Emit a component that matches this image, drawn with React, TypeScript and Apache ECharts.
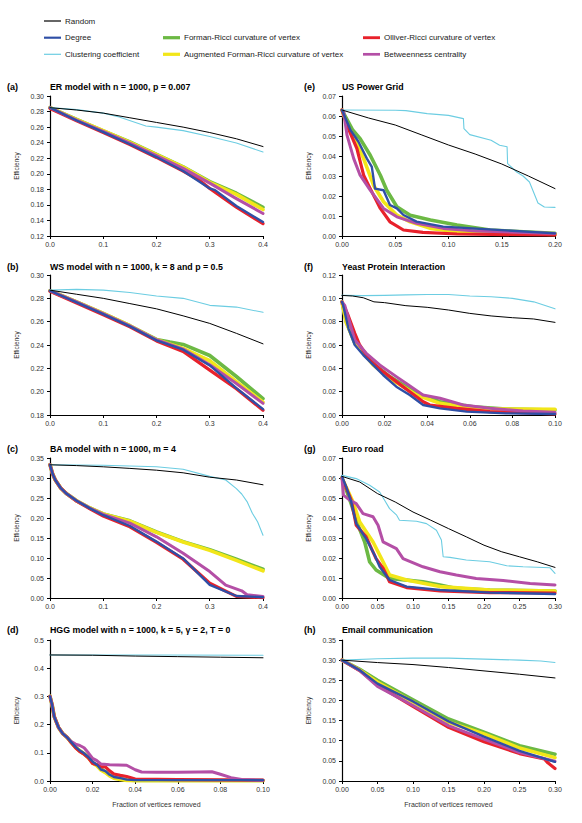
import React, { useEffect, useRef } from "react";
import * as echarts from "echarts";

// ---------- names ----------
const N_RANDOM = "Random";
const N_DEGREE = "Degree";
const N_CLUST = "Clustering coefficient";
const N_FORMAN = "Forman-Ricci curvature of vertex";
const N_AUG = "Augmented Forman-Ricci curvature of vertex";
const N_OLLIVER = "Olliver-Ricci curvature of vertex";
const N_BETW = "Betweenness centrality";

// ---------- (a) ER model ----------
const A_random = [[0,0.285],[0.05,0.282],[0.1,0.278],[0.15,0.272],[0.2,0.266],[0.25,0.26],[0.3,0.253],[0.35,0.245],[0.4,0.235]];
const A_clust = [[0,0.285],[0.05,0.2825],[0.1,0.278],[0.13,0.273],[0.18,0.2615],[0.2,0.26],[0.25,0.2555],[0.3,0.248],[0.35,0.2395],[0.4,0.228]];
const A_green = [[0,0.285],[0.05,0.27],[0.1,0.255],[0.15,0.241],[0.2,0.225],[0.25,0.209],[0.3,0.19],[0.35,0.175],[0.4,0.157]];
const A_yellow = [[0,0.285],[0.05,0.2695],[0.1,0.2555],[0.15,0.2405],[0.2,0.2245],[0.25,0.2085],[0.3,0.189],[0.35,0.1735],[0.4,0.154]];
const A_red = [[0,0.284],[0.05,0.268],[0.1,0.253],[0.15,0.2375],[0.2,0.221],[0.25,0.2035],[0.28,0.192],[0.3,0.181],[0.35,0.157],[0.4,0.136]];
const A_magenta = [[0,0.285],[0.05,0.269],[0.1,0.2545],[0.15,0.2395],[0.2,0.2235],[0.25,0.207],[0.3,0.188],[0.35,0.168],[0.4,0.149]];
const A_blue = [[0,0.285],[0.05,0.2685],[0.1,0.2535],[0.15,0.238],[0.2,0.2215],[0.25,0.2035],[0.3,0.1812],[0.31,0.179],[0.35,0.1585],[0.4,0.138]];

// ---------- (b) WS model ----------
const B_random = [[0,0.287],[0.05,0.2835],[0.1,0.28],[0.15,0.2755],[0.2,0.271],[0.25,0.265],[0.3,0.2585],[0.35,0.25],[0.4,0.241]];
const B_clust = [[0,0.287],[0.05,0.2877],[0.1,0.287],[0.15,0.285],[0.2,0.282],[0.25,0.28],[0.3,0.274],[0.35,0.2725],[0.4,0.268]];
const B_green = [[0,0.2865],[0.05,0.277],[0.1,0.267],[0.15,0.2565],[0.2,0.2448],[0.225,0.2425],[0.25,0.2405],[0.3,0.231],[0.35,0.213],[0.4,0.194]];
const B_yellow = [[0,0.2865],[0.05,0.277],[0.1,0.267],[0.15,0.2565],[0.2,0.2445],[0.25,0.237],[0.3,0.2265],[0.35,0.2085],[0.4,0.191]];
const B_red = [[0,0.286],[0.05,0.276],[0.1,0.266],[0.15,0.2555],[0.2,0.2435],[0.25,0.2345],[0.3,0.2185],[0.35,0.2025],[0.4,0.184]];
const B_magenta = [[0,0.2865],[0.05,0.277],[0.1,0.267],[0.15,0.2565],[0.2,0.2445],[0.25,0.2365],[0.3,0.223],[0.35,0.207],[0.4,0.19]];
const B_blue = [[0,0.2865],[0.05,0.2765],[0.1,0.2665],[0.15,0.256],[0.2,0.244],[0.25,0.236],[0.3,0.2225],[0.35,0.203],[0.4,0.185]];

// ---------- (c) BA model ----------
const C_random = [[0,0.333],[0.05,0.331],[0.1,0.328],[0.15,0.324],[0.2,0.3195],[0.25,0.313],[0.3,0.302],[0.35,0.295],[0.4,0.283]];
const C_clust = [[0,0.333],[0.1,0.332],[0.2,0.328],[0.25,0.322],[0.3,0.304],[0.33,0.295],[0.35,0.2735],[0.36,0.26],[0.37,0.241],[0.38,0.212],[0.39,0.19],[0.4,0.157]];
const C_green = [[0,0.333],[0.005,0.31],[0.01,0.295],[0.02,0.275],[0.03,0.262],[0.05,0.243],[0.075,0.225],[0.1,0.21],[0.15,0.193],[0.2,0.165],[0.25,0.141],[0.3,0.121],[0.35,0.097],[0.4,0.072]];
const C_yellow = [[0,0.333],[0.005,0.31],[0.01,0.295],[0.02,0.275],[0.03,0.262],[0.05,0.243],[0.075,0.225],[0.1,0.21],[0.15,0.192],[0.2,0.164],[0.25,0.14],[0.3,0.119],[0.35,0.094],[0.4,0.068]];
const C_red = [[0,0.333],[0.005,0.31],[0.01,0.295],[0.02,0.275],[0.03,0.262],[0.05,0.242],[0.075,0.223],[0.1,0.205],[0.15,0.178],[0.2,0.139],[0.25,0.097],[0.3,0.037],[0.35,0.004],[0.4,0.001]];
const C_magenta = [[0,0.333],[0.005,0.31],[0.01,0.295],[0.02,0.275],[0.03,0.262],[0.05,0.243],[0.075,0.225],[0.1,0.209],[0.15,0.187],[0.2,0.153],[0.25,0.112],[0.3,0.066],[0.33,0.032],[0.36,0.018],[0.37,0.008],[0.4,0.004]];
const C_blue = [[0,0.333],[0.005,0.31],[0.01,0.295],[0.02,0.275],[0.03,0.262],[0.05,0.243],[0.075,0.224],[0.1,0.207],[0.15,0.18],[0.2,0.141],[0.25,0.099],[0.3,0.033],[0.35,0.005],[0.4,0.002]];

// ---------- (d) HGG model ----------
const D_random = [[0,0.447],[0.02,0.446],[0.04,0.443],[0.06,0.441],[0.08,0.439],[0.1,0.437]];
const D_clust = [[0,0.447],[0.05,0.447],[0.1,0.446]];
const D_green = [[0,0.3],[0.001,0.27],[0.002,0.228],[0.004,0.19],[0.006,0.168],[0.008,0.155],[0.01,0.137],[0.012,0.12],[0.014,0.107],[0.016,0.097],[0.018,0.084],[0.02,0.066],[0.022,0.056],[0.024,0.042],[0.026,0.033],[0.028,0.021],[0.03,0.013],[0.033,0.008],[0.036,0.004],[0.04,0.002],[0.1,0.002]];
const D_yellow = [[0,0.3],[0.001,0.27],[0.002,0.228],[0.004,0.19],[0.006,0.168],[0.008,0.155],[0.01,0.137],[0.012,0.119],[0.014,0.106],[0.016,0.096],[0.018,0.083],[0.02,0.064],[0.022,0.054],[0.024,0.038],[0.026,0.03],[0.028,0.018],[0.03,0.01],[0.033,0.005],[0.036,0.002],[0.04,0.001],[0.1,0.001]];
const D_red = [[0,0.3],[0.001,0.27],[0.002,0.228],[0.004,0.19],[0.006,0.168],[0.008,0.155],[0.01,0.136],[0.012,0.118],[0.014,0.104],[0.016,0.095],[0.018,0.082],[0.02,0.062],[0.022,0.058],[0.024,0.05],[0.026,0.05],[0.028,0.036],[0.03,0.025],[0.033,0.02],[0.036,0.016],[0.04,0.007],[0.06,0.005],[0.08,0.004],[0.1,0.003]];
const D_magenta = [[0,0.3],[0.001,0.27],[0.002,0.228],[0.004,0.19],[0.006,0.168],[0.008,0.155],[0.01,0.14],[0.012,0.131],[0.014,0.126],[0.016,0.118],[0.018,0.1],[0.02,0.08],[0.022,0.072],[0.024,0.06],[0.028,0.058],[0.032,0.057],[0.036,0.056],[0.038,0.048],[0.04,0.04],[0.043,0.032],[0.05,0.031],[0.06,0.031],[0.07,0.032],[0.076,0.033],[0.08,0.024],[0.085,0.012],[0.09,0.005],[0.1,0.003]];
const D_blue = [[0,0.3],[0.001,0.27],[0.002,0.228],[0.004,0.19],[0.006,0.168],[0.008,0.155],[0.01,0.138],[0.012,0.121],[0.014,0.108],[0.016,0.098],[0.018,0.085],[0.02,0.068],[0.022,0.058],[0.024,0.04],[0.026,0.035],[0.028,0.022],[0.03,0.014],[0.033,0.01],[0.036,0.005],[0.04,0.003],[0.06,0.003],[0.08,0.003],[0.1,0.003]];

// ---------- (e) US Power Grid ----------
const E_random = [[0,0.063],[0.025,0.059],[0.05,0.0555],[0.075,0.0505],[0.1,0.0455],[0.125,0.041],[0.15,0.036],[0.175,0.03],[0.2,0.0237]];
const E_clust = [[0,0.063],[0.05,0.0629],[0.06,0.0627],[0.08,0.0612],[0.1,0.0603],[0.114,0.0587],[0.1145,0.0537],[0.12,0.0507],[0.14,0.0479],[0.148,0.0454],[0.155,0.0446],[0.1555,0.0362],[0.164,0.032],[0.17,0.03],[0.176,0.027],[0.184,0.0165],[0.19,0.0145],[0.2,0.0143]];
const E_green = [[0,0.063],[0.005,0.058],[0.01,0.053],[0.017,0.0487],[0.0265,0.0404],[0.036,0.0304],[0.042,0.0229],[0.0515,0.0146],[0.064,0.0104],[0.083,0.008],[0.108,0.0055],[0.139,0.003],[0.2,0.0013]];
const E_yellow = [[0,0.063],[0.005,0.055],[0.011,0.05],[0.0203,0.0387],[0.0296,0.0254],[0.039,0.0171],[0.0515,0.0104],[0.064,0.0071],[0.083,0.0038],[0.108,0.0021],[0.2,0.0008]];
const E_red = [[0,0.063],[0.006,0.0537],[0.014,0.0437],[0.0203,0.0304],[0.0265,0.0237],[0.036,0.0138],[0.045,0.0071],[0.0577,0.003],[0.076,0.0018],[0.108,0.001],[0.2,0.0005]];
const E_magenta = [[0,0.063],[0.0016,0.062],[0.0047,0.0504],[0.011,0.0387],[0.017,0.0304],[0.0265,0.0229],[0.039,0.0138],[0.0515,0.0096],[0.07,0.0063],[0.095,0.0038],[0.126,0.0025],[0.2,0.0013]];
const E_blue = [[0,0.063],[0.008,0.053],[0.0156,0.047],[0.0234,0.0387],[0.028,0.0346],[0.031,0.0237],[0.039,0.0229],[0.045,0.0155],[0.0515,0.0138],[0.0577,0.0105],[0.07,0.0072],[0.095,0.0047],[0.2,0.0013]];

// ---------- (f) Yeast Protein Interaction ----------
const F_random = [[0,0.1025],[0.005,0.102],[0.01,0.1005],[0.015,0.097],[0.02,0.0963],[0.03,0.0937],[0.04,0.0923],[0.05,0.09],[0.06,0.0871],[0.07,0.0849],[0.08,0.0834],[0.09,0.0823],[0.1,0.0794]];
const F_clust = [[0,0.1025],[0.01,0.1023],[0.02,0.1025],[0.03,0.103],[0.04,0.1033],[0.05,0.1033],[0.06,0.102],[0.07,0.1013],[0.08,0.1],[0.09,0.097],[0.1,0.091]];
const F_green = [[0,0.097],[0.002,0.08],[0.006,0.0614],[0.0146,0.0443],[0.0224,0.0329],[0.035,0.0186],[0.046,0.0114],[0.0616,0.0071],[0.077,0.0051],[0.1,0.0043]];
const F_yellow = [[0,0.097],[0.002,0.079],[0.006,0.0623],[0.0146,0.0429],[0.0224,0.0314],[0.035,0.0171],[0.046,0.01],[0.0616,0.0057],[0.077,0.0051],[0.1,0.0049]];
const F_red = [[0,0.097],[0.0028,0.0857],[0.006,0.07],[0.0083,0.06],[0.013,0.047],[0.0193,0.037],[0.0255,0.0286],[0.0318,0.02],[0.0381,0.0114],[0.0412,0.0086],[0.0538,0.0057],[0.0694,0.0029],[0.1,0.0009]];
const F_magenta = [[0,0.097],[0.0013,0.094],[0.006,0.0643],[0.0114,0.0529],[0.0177,0.0429],[0.0255,0.0329],[0.0302,0.0271],[0.038,0.0171],[0.046,0.0143],[0.0569,0.0086],[0.0694,0.0057],[0.085,0.0034],[0.1,0.0023]];
const F_blue = [[0,0.097],[0.0005,0.0943],[0.003,0.0743],[0.006,0.06],[0.01,0.0514],[0.0146,0.0429],[0.0193,0.0343],[0.0255,0.0243],[0.0318,0.0171],[0.0381,0.0086],[0.046,0.0057],[0.0585,0.0029],[0.077,0.0014],[0.1,0.0009]];

// ---------- (g) Euro road ----------
const G_random = [[0,0.0608],[0.025,0.058],[0.05,0.0522],[0.075,0.048],[0.1,0.043],[0.125,0.0389],[0.15,0.0347],[0.175,0.0306],[0.2,0.0264],[0.225,0.0231],[0.25,0.0206],[0.275,0.0181],[0.3,0.0153]];
const G_clust = [[0,0.0613],[0.02,0.0597],[0.039,0.0564],[0.053,0.053],[0.06,0.0489],[0.067,0.0447],[0.077,0.0414],[0.081,0.0389],[0.105,0.0384],[0.119,0.0372],[0.133,0.0339],[0.14,0.029],[0.1425,0.0206],[0.152,0.0203],[0.175,0.019],[0.208,0.0181],[0.232,0.0161],[0.255,0.0156],[0.293,0.0151],[0.3,0.0123]];
const G_green = [[0,0.06],[0.013,0.047],[0.0226,0.0364],[0.032,0.028],[0.039,0.018],[0.048,0.014],[0.067,0.0098],[0.114,0.0081],[0.138,0.0065],[0.161,0.0048],[0.208,0.004],[0.3,0.0035]];
const G_yellow = [[0,0.06],[0.0155,0.048],[0.025,0.038],[0.0437,0.028],[0.058,0.018],[0.067,0.0115],[0.091,0.009],[0.138,0.0057],[0.208,0.004],[0.3,0.0035]];
const G_red = [[0,0.06],[0.013,0.049],[0.02,0.0364],[0.034,0.0306],[0.048,0.0197],[0.058,0.0148],[0.067,0.0081],[0.091,0.0052],[0.138,0.0035],[0.208,0.0027],[0.3,0.0025]];
const G_magenta = [[0,0.06],[0.002,0.0514],[0.0108,0.0489],[0.02,0.0472],[0.0296,0.0422],[0.0437,0.0406],[0.0508,0.0364],[0.0578,0.0281],[0.0766,0.0247],[0.086,0.0197],[0.114,0.0156],[0.138,0.0131],[0.161,0.0115],[0.189,0.0098],[0.227,0.0087],[0.265,0.0073],[0.3,0.0065]];
const G_blue = [[0,0.0608],[0.006,0.0555],[0.013,0.048],[0.02,0.0372],[0.034,0.0297],[0.046,0.0214],[0.053,0.0156],[0.067,0.009],[0.091,0.0057],[0.138,0.004],[0.208,0.0027],[0.3,0.002]];

// ---------- (h) Email communication ----------
const H_random = [[0,0.3],[0.05,0.294],[0.1,0.289],[0.15,0.2817],[0.2,0.2733],[0.25,0.265],[0.3,0.2558]];
const H_clust = [[0,0.3],[0.05,0.3033],[0.1,0.305],[0.15,0.305],[0.2,0.3025],[0.25,0.3],[0.28,0.298],[0.3,0.294]];
const H_green = [[0,0.3],[0.025,0.277],[0.05,0.25],[0.1,0.2017],[0.15,0.154],[0.2,0.121],[0.25,0.0875],[0.3,0.0667]];
const H_yellow = [[0,0.3],[0.025,0.275],[0.05,0.245],[0.1,0.196],[0.15,0.146],[0.2,0.117],[0.25,0.0817],[0.3,0.058]];
const H_red = [[0,0.3],[0.025,0.274],[0.05,0.238],[0.1,0.185],[0.15,0.1333],[0.2,0.0975],[0.25,0.068],[0.285,0.055],[0.29,0.045],[0.3,0.031]];
const H_magenta = [[0,0.3],[0.025,0.274],[0.05,0.235],[0.1,0.1875],[0.15,0.1375],[0.2,0.104],[0.25,0.0708],[0.3,0.049]];
const H_blue = [[0,0.3],[0.025,0.275],[0.05,0.2417],[0.1,0.1975],[0.15,0.148],[0.2,0.11],[0.25,0.075],[0.3,0.0475]];

// ---------- styles ----------
const STYLE: Record<string, { color: string; width: number }> = {
  [N_FORMAN]: { color: "#6cb944", width: 3.6 },
  [N_AUG]: { color: "#f2e619", width: 3.6 },
  [N_OLLIVER]: { color: "#e8212b", width: 3.2 },
  [N_BETW]: { color: "#b44fa6", width: 3.0 },
  [N_DEGREE]: { color: "#2f4fa6", width: 2.4 },
  [N_CLUST]: { color: "#6ccde2", width: 1.1 },
  [N_RANDOM]: { color: "#000000", width: 1.0 },
};

const PANELS = [
  { label: "(a)", title: "ER model with n = 1000, p = 0.007", left: 50, top: 96, h: 140, xMax: 0.4, xInt: 0.1, xDec: 1, yMin: 0.12, yMax: 0.3, yInt: 0.02, yDec: 2,
    d: [A_green, A_yellow, A_red, A_magenta, A_blue, A_clust, A_random], tY: 87 },
  { label: "(b)", title: "WS model with n = 1000, k = 8 and p = 0.5", left: 50, top: 275, h: 140, xMax: 0.4, xInt: 0.1, xDec: 1, yMin: 0.18, yMax: 0.3, yInt: 0.02, yDec: 2,
    d: [B_green, B_yellow, B_red, B_magenta, B_blue, B_clust, B_random], tY: 267 },
  { label: "(c)", title: "BA model with n = 1000, m = 4", left: 50, top: 458, h: 140, xMax: 0.4, xInt: 0.1, xDec: 1, yMin: 0, yMax: 0.35, yInt: 0.05, yDec: 2,
    d: [C_green, C_yellow, C_red, C_magenta, C_blue, C_clust, C_random], tY: 449 },
  { label: "(d)", title: "HGG model with n = 1000, k = 5, γ = 2, T = 0", left: 50, top: 640, h: 141, xMax: 0.1, xInt: 0.02, xDec: 2, yMin: 0, yMax: 0.5, yInt: 0.1, yDec: 1,
    d: [D_green, D_yellow, D_red, D_magenta, D_blue, D_clust, D_random], tY: 630, xName: true },
  { label: "(e)", title: "US Power Grid", left: 342, top: 96, h: 140, xMax: 0.2, xInt: 0.05, xDec: 2, yMin: 0, yMax: 0.07, yInt: 0.01, yDec: 2,
    d: [E_green, E_yellow, E_red, E_magenta, E_blue, E_clust, E_random], tY: 87 },
  { label: "(f)", title: "Yeast Protein Interaction", left: 342, top: 275, h: 140, xMax: 0.1, xInt: 0.02, xDec: 2, yMin: 0, yMax: 0.12, yInt: 0.02, yDec: 2,
    d: [F_green, F_yellow, F_red, F_magenta, F_blue, F_clust, F_random], tY: 267 },
  { label: "(g)", title: "Euro road", left: 342, top: 458, h: 140, xMax: 0.3, xInt: 0.05, xDec: 2, yMin: 0, yMax: 0.07, yInt: 0.01, yDec: 2,
    d: [G_green, G_yellow, G_red, G_magenta, G_blue, G_clust, G_random], tY: 449 },
  { label: "(h)", title: "Email communication", left: 342, top: 640, h: 141, xMax: 0.3, xInt: 0.05, xDec: 2, yMin: 0, yMax: 0.35, yInt: 0.05, yDec: 2,
    d: [H_green, H_yellow, H_red, H_magenta, H_blue, H_clust, H_random], tY: 630, xName: true },
];

const ORDER = [N_FORMAN, N_AUG, N_OLLIVER, N_BETW, N_DEGREE, N_CLUST, N_RANDOM];

const FONT = "Liberation Sans, Arial, sans-serif";

function buildOption() {
  const grid: any[] = [];
  const xAxis: any[] = [];
  const yAxis: any[] = [];
  const series: any[] = [];
  const title: any[] = [];

  PANELS.forEach((p, i) => {
    grid.push({ left: p.left, top: p.top, width: 213, height: p.h, containLabel: false });
    const axisCommon = {
      axisLine: { show: true, onZero: false, lineStyle: { color: "#000", width: 1.2 } },
      axisTick: { show: true, inside: false, length: 3, lineStyle: { color: "#000", width: 1 } },
      splitLine: { show: false },
    };
    xAxis.push({
      type: "value", gridIndex: i, min: 0, max: p.xMax, interval: p.xInt,
      ...axisCommon,
      axisLabel: { fontSize: 7, color: "#333", fontFamily: FONT, margin: 5, showMaxLabel: true, showMinLabel: true,
        formatter: (v: number) => v.toFixed(p.xDec) },
      name: p.xName ? "Fraction of vertices removed" : "",
      nameLocation: "middle", nameGap: 20,
      nameTextStyle: { fontSize: 7, color: "#333", fontFamily: FONT },
    });
    yAxis.push({
      type: "value", gridIndex: i, min: p.yMin, max: p.yMax, interval: p.yInt,
      ...axisCommon,
      axisLabel: { fontSize: 7, color: "#333", fontFamily: FONT, margin: 6, showMaxLabel: true, showMinLabel: true,
        formatter: (v: number) => v.toFixed(p.yDec) },
      name: "Efficiency", nameLocation: "middle", nameGap: 30, nameRotate: 90,
      nameTextStyle: { fontSize: 6.5, color: "#333", fontFamily: FONT },
    });
    title.push({
      text: p.label, left: p.left === 50 ? 7 : 304, top: p.tY - 5, padding: 0,
      textStyle: { fontSize: 9, fontWeight: "bold", color: "#000", fontFamily: FONT, lineHeight: 10 },
    });
    title.push({
      text: p.title, left: p.left, top: p.tY - 5, padding: 0,
      textStyle: { fontSize: 8.8, fontWeight: "bold", color: "#000", fontFamily: FONT, lineHeight: 10 },
    });
    ORDER.forEach((name, k) => {
      const st = STYLE[name];
      series.push({
        type: "line", name, xAxisIndex: i, yAxisIndex: i, data: p.d[k],
        showSymbol: false, symbol: "none", smooth: false,
        lineStyle: { color: st.color, width: st.width, join: "round", cap: "round" },
        itemStyle: { color: st.color },
        emphasis: { disabled: true },
        z: 2,
      });
    });
  });

  const leg = (name: string, left: number, cy: number) => {
    const st = STYLE[name];
    const ih = Math.max(1.2, st.width * 0.9);
    return {
      data: [{ name, icon: "rect", itemStyle: { color: st.color } }],
      left, top: cy - 5, padding: 0, itemWidth: 17, itemHeight: ih,
      selectedMode: false,
      textStyle: { fontSize: 8, color: "#222", fontFamily: FONT, padding: [0, 0, 0, -1], lineHeight: 10 },
    };
  };
  const legend = [
    leg(N_RANDOM, 44, 21),
    leg(N_DEGREE, 44, 37.7),
    leg(N_CLUST, 44, 54.3),
    leg(N_FORMAN, 163, 37.7),
    leg(N_AUG, 163, 54.3),
    leg(N_OLLIVER, 363, 37.7),
    leg(N_BETW, 363, 54.3),
  ];

  return {
    animation: false,
    backgroundColor: "#ffffff",
    textStyle: { fontFamily: FONT },
    title, legend, grid, xAxis, yAxis, series,
  };
}

export default function App() {
  const ref = useRef<HTMLDivElement>(null);
  useEffect(() => {
    if (!ref.current) return;
    const chart = echarts.init(ref.current, undefined, { renderer: "svg" });
    chart.setOption(buildOption() as any);
    return () => chart.dispose();
  }, []);
  return (
    <div
      ref={ref}
      style={{ position: "absolute", left: 0, top: 0, width: 582, height: 823, background: "#fff" }}
    />
  );
}
